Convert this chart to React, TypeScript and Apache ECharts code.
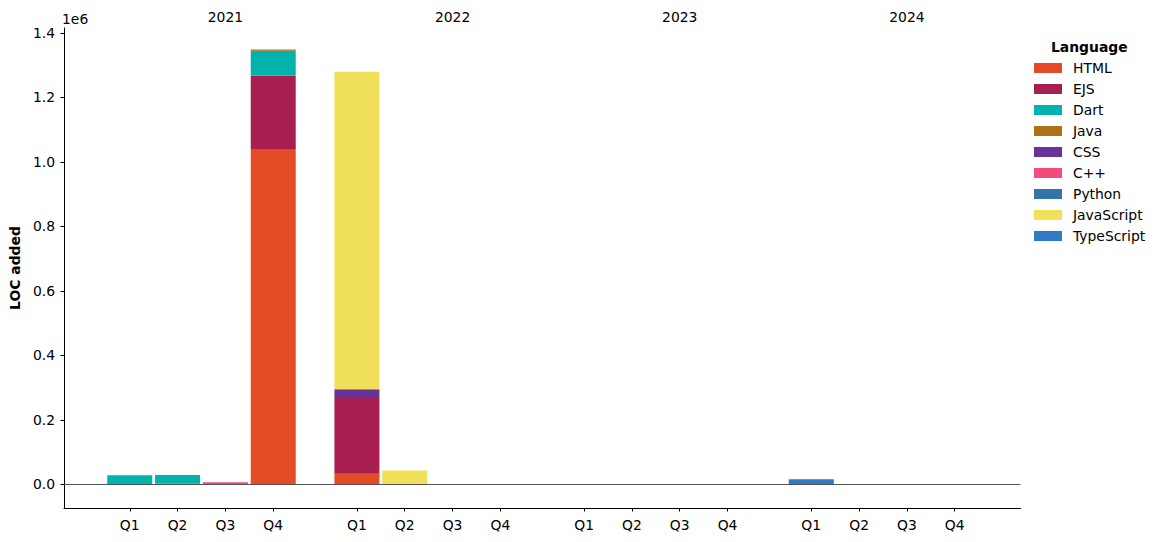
import React, { useEffect, useRef } from "react";
import * as echarts from "echarts";

const years = ["2021", "2022", "2023", "2024"];
const quarters = ["Q1", "Q2", "Q3", "Q4"];
const languages = ["HTML", "EJS", "Dart", "Java", "CSS", "C++", "Python", "JavaScript", "TypeScript"];
const colors = ["#e34c26", "#a91e50", "#00b4ab", "#b07219", "#663399", "#f34b7d", "#3572a5", "#f1e05a", "#3178c6"];

// 16 quarters: 2021 Q1..Q4, 2022 Q1..Q4, 2023 Q1..Q4, 2024 Q1..Q4
const htmlLoc = [0, 1500, 0, 1038000, 33000, 0, 0, 0, 0, 0, 0, 0, 0, 0, 0, 0];
const ejsLoc = [0, 0, 0, 229000, 235000, 2000, 0, 0, 0, 0, 0, 0, 0, 0, 0, 0];
const dartLoc = [28000, 27000, 0, 78000, 0, 0, 0, 0, 0, 0, 0, 0, 0, 0, 0, 0];
const javaLoc = [0, 0, 0, 3500, 0, 0, 0, 0, 0, 0, 0, 0, 0, 0, 0, 0];
const cssLoc = [0, 0, 0, 0, 27000, 0, 0, 0, 0, 0, 0, 0, 0, 0, 0, 0];
const cppLoc = [0, 0, 6000, 0, 0, 0, 0, 0, 0, 0, 0, 0, 0, 0, 0, 0];
const pythonLoc = [0, 0, 0, 0, 0, 0, 0, 0, 0, 0, 0, 0, 0, 0, 0, 0];
const javascriptLoc = [0, 0, 0, 0, 985000, 41000, 0, 0, 0, 0, 0, 0, 0, 0, 0, 0];
const typescriptLoc = [0, 0, 0, 0, 0, 0, 0, 0, 0, 0, 0, 0, 15500, 0, 0, 0];
const seriesValues = [htmlLoc, ejsLoc, dartLoc, javaLoc, cssLoc, cppLoc, pythonLoc, javascriptLoc, typescriptLoc];

const yTicks = [0, 200000, 400000, 600000, 800000, 1000000, 1200000, 1400000];

const FONT = "DejaVu Sans";
const FS = 13.9;

// Fine category grid: 4 slots per quarter, gap of 3 slots between years
const SLOTS = 80;
const FIRST_SLOT = 5;
const SLOTS_PER_Q = 4;
const SLOTS_PER_YEAR = 19;

const slotCats = Array.from({ length: SLOTS }, (_, i) => String(i));
const quarterSlot: number[] = [];
const slotLabel: Record<number, string> = {};
years.forEach((_, yi) =>
  quarters.forEach((q, qi) => {
    const s = FIRST_SLOT + yi * SLOTS_PER_YEAR + qi * SLOTS_PER_Q;
    quarterSlot.push(s);
    slotLabel[s] = q;
  })
);
const yearLabel: Record<number, string> = {};
years.forEach((y, yi) => (yearLabel[FIRST_SLOT + yi * SLOTS_PER_YEAR + 2 * SLOTS_PER_Q] = y));

function spread(vals: number[]) {
  const out: any[] = new Array(SLOTS).fill("-");
  vals.forEach((v, i) => (out[quarterSlot[i]] = v));
  return out;
}

export default function App() {
  const ref = useRef<HTMLDivElement>(null);
  useEffect(() => {
    const chart = echarts.init(ref.current!, null, { renderer: "svg" });
    const series: any[] = languages.map((name, li) => ({
      name,
      type: "bar",
      stack: "total",
      barWidth: 45,
      itemStyle: { color: colors[li] },
      data: spread(seriesValues[li]),
      ...(li === 0
        ? {
            markLine: {
              silent: true,
              symbol: ["none", "none"],
              label: { show: false },
              lineStyle: { color: "#444", width: 0.9, type: "solid" },
              data: [{ yAxis: 0 }],
              z: 10,
            },
          }
        : {}),
    }));
    chart.setOption({
      animation: false,
      textStyle: { fontFamily: FONT },
      grid: { left: 61.5, right: 139.5, top: 28, bottom: 34, containLabel: false },
      legend: {
        orient: "vertical",
        left: 1034,
        top: 61,
        padding: 0,
        icon: "rect",
        itemWidth: 28,
        itemHeight: 10,
        itemGap: 7,
        data: languages,
        textStyle: { fontSize: FS, color: "#000", fontFamily: FONT, padding: [0, 0, 0, 6] },
      },
      xAxis: [
        {
          type: "category",
          data: slotCats,
          boundaryGap: true,
          splitLine: { show: false },
          axisLine: { show: true, onZero: false, lineStyle: { color: "#000", width: 1 } },
          axisTick: {
            show: true,
            length: 3.5,
            alignWithLabel: true,
            interval: (i: number) => slotLabel[i] !== undefined,
            lineStyle: { color: "#000" },
          },
          axisLabel: {
            show: true,
            color: "#000",
            fontSize: FS,
            fontFamily: FONT,
            margin: 10,
            interval: (i: number) => slotLabel[i] !== undefined,
            formatter: (_v: string, i: number) => slotLabel[i] ?? "",
          },
        },
        {
          type: "category",
          data: slotCats,
          position: "top",
          boundaryGap: true,
          splitLine: { show: false },
          axisLine: { show: false },
          axisTick: { show: false },
          axisLabel: {
            show: true,
            color: "#000",
            fontSize: FS,
            fontFamily: FONT,
            margin: 4,
            interval: (i: number) => yearLabel[i] !== undefined,
            formatter: (_v: string, i: number) => yearLabel[i] ?? "",
          },
        },
      ],
      yAxis: {
        type: "value",
        min: -73500,
        max: 1415500,
        name: "LOC added",
        nameLocation: "middle",
        nameGap: 40,
        nameTextStyle: { fontWeight: "bold", fontSize: FS, color: "#000", fontFamily: FONT },
        splitLine: { show: false },
        axisLine: { show: true, onZero: false, lineStyle: { color: "#000", width: 1 } },
        axisTick: { show: true, length: 3.5, lineStyle: { color: "#000" }, customValues: yTicks },
        axisLabel: {
          color: "#000",
          fontSize: FS,
          fontFamily: FONT,
          margin: 9,
          customValues: yTicks,
          formatter: (v: number) => (v / 1e6).toFixed(1),
        },
      },
      graphic: [
        {
          type: "text",
          left: 62,
          top: 12,
          style: { text: "1e6", fontSize: FS, fontFamily: FONT, fill: "#000" },
        },
        {
          type: "text",
          left: 1051,
          top: 40,
          style: { text: "Language", fontSize: FS, fontWeight: "bold", fontFamily: FONT, fill: "#000" },
        },
      ],
      series,
    });
    return () => chart.dispose();
  }, []);
  return <div ref={ref} style={{ position: "absolute", left: 0, top: 0, width: 1160, height: 542 }} />;
}
